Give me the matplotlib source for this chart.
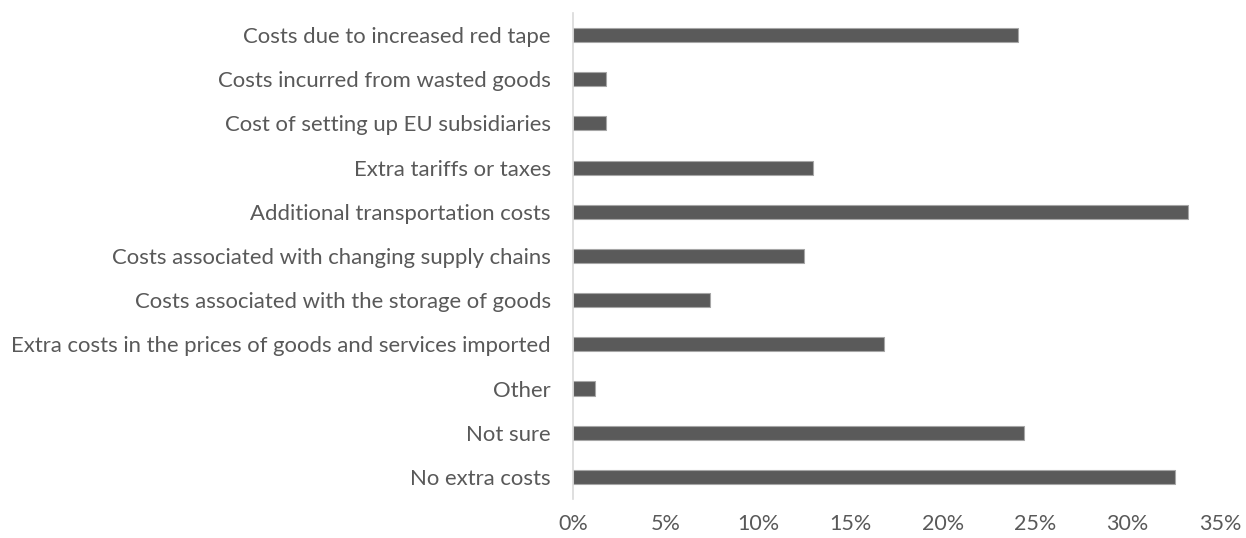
import matplotlib
matplotlib.use("Agg")
import matplotlib.pyplot as plt
from matplotlib.ticker import FuncFormatter, MultipleLocator

categories = [
    "Costs due to increased red tape",
    "Costs incurred from wasted goods",
    "Cost of setting up EU subsidiaries",
    "Extra tariffs or taxes",
    "Additional transportation costs",
    "Costs associated with changing supply chains",
    "Costs associated with the storage of goods",
    "Extra costs in the prices of goods and services imported",
    "Other",
    "Not sure",
    "No extra costs",
]
values = [24.1, 1.8, 1.8, 13.0, 33.3, 12.5, 7.4, 16.8, 1.2, 24.4, 32.6]
xticks = [0, 5, 10, 15, 20, 25, 30, 35]

plt.rcParams['font.family'] = ['Lato', 'DejaVu Sans']
txt = '#595959'

fig = plt.figure(figsize=(12.46, 5.38), dpi=100)
ax = fig.add_axes([0.46, 0.0725, 0.519, 0.9035])

y = list(range(len(categories)))
ax.barh(y, values, height=0.32, color='#5a5a5a', edgecolor='#a6a6a6', linewidth=0.8)
ax.set_ylim(len(categories) - 0.5, -0.5)
ax.set_xlim(0, 35)
ax.set_yticks(y)
ax.set_yticklabels(categories, fontsize=15.9, color=txt)
ax.set_xticks(xticks)
ax.xaxis.set_major_formatter(FuncFormatter(lambda v, p: f"{v:.0f}%"))
ax.tick_params(axis='x', labelsize=15.5, colors=txt, length=0, pad=11)
ax.tick_params(axis='y', length=0, pad=16)
for s in ['top', 'right', 'bottom']:
    ax.spines[s].set_visible(False)
ax.spines['left'].set_color('#d9d9d9')
ax.spines['left'].set_linewidth(1.2)

fig.savefig('out.png', dpi=100)
